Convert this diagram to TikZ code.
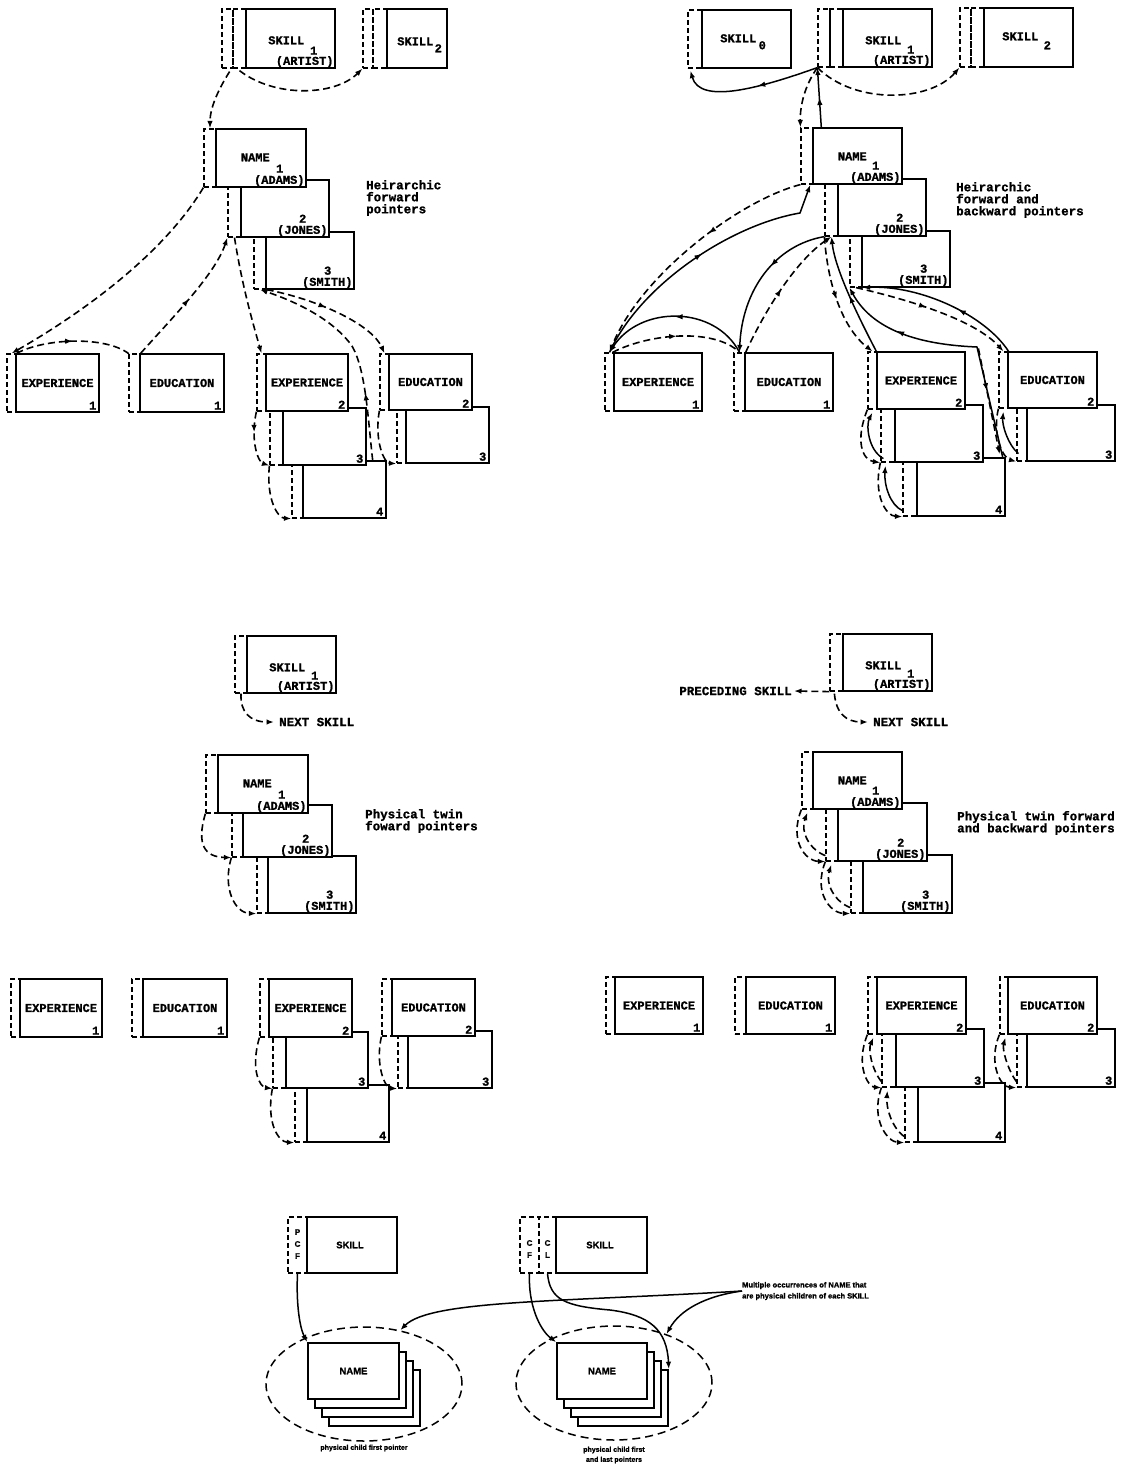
\documentclass[tikz,border=0pt]{standalone}
\usepackage{fontspec}
\setmainfont{Liberation Serif}
\setmonofont{Liberation Mono}[BoldFeatures={FakeBold=1.2}]
\setsansfont{Liberation Sans}[BoldFeatures={FakeBold=1.2}]
\usetikzlibrary{fit,calc,arrows.meta,decorations.markings,shapes.geometric}
\tikzset{
 rec/.style={draw, fill=white, line width=1.4pt, inner sep=0pt},
 stk/.style={draw, fill=white, line width=1.6pt, inner sep=0pt},
 pfx/.style={draw, dash pattern=on 5pt off 3pt, line width=1.2pt, inner sep=0pt},
 dptr/.style={line width=1.6pt, dash pattern=on 7pt off 4pt},
 sptr/.style={line width=1.5pt},
 >={Latex[length=7.5pt,width=5.5pt]},
 marr/.style={postaction={decorate,decoration={markings,mark=at position #1 with {\arrow[solid]{>}}}}},
 btxt/.style={font=\ttfamily\bfseries\fontsize{12}{12}\selectfont, inner sep=0pt},
 ltxt/.style={font=\ttfamily\bfseries\fontsize{12.5}{12}\selectfont, inner sep=0pt, align=left},
 stxt/.style={font=\sffamily\bfseries\fontsize{9.5}{10}\selectfont, inner sep=0pt},
 pftxt/.style={font=\sffamily\bfseries\fontsize{8}{8}\selectfont, inner sep=0pt},
 ctxt/.style={font=\sffamily\bfseries\fontsize{7}{10}\selectfont, inner sep=0pt, align=center},
 annt/.style={font=\sffamily\bfseries\fontsize{7.5}{11}\selectfont, inner sep=0pt, align=left},
 ellz/.style={draw, ellipse, line width=1.5pt, dash pattern=on 8pt off 5pt, minimum width=196pt, minimum height=114pt, inner sep=0pt},
}
% id, prefix-left, x1, y1, x2, y2
\newcommand\Rec[6]{%
 \node[pfx, fit={(#2,#4) (#3,#6)}] (#1p) {};
 \node[rec, fit={(#3,#4) (#5,#6)}] (#1) {};}
% id, prefix-left, divider, x1, y1, x2, y2
\newcommand\RecT[7]{%
 \node[pfx, fit={(#2,#5) (#3,#7)}] (#1q) {};
 \node[pfx, fit={(#3,#5) (#4,#7)}] (#1p) {};
 \node[rec, fit={(#4,#5) (#6,#7)}] (#1) {};}
\newcommand\SkT[3]{%
 \node[btxt] (#1a) at ($(#1.north west)+(41,32)$) {SKILL};
 \node[btxt] (#1b) at ($(#1.south east)+(-22,-18)$) {#2};
 \node[btxt,anchor=east] (#1c) at ($(#1.south east)+(-2,-7)$) {#3};}
\newcommand\NmT[3]{%
 \node[btxt] (#1b) at ($(#1.south east)+(-27,-19)$) {#2};
 \node[btxt,anchor=east] (#1c) at ($(#1.south east)+(-2,-7)$) {#3};}
\newcommand\ExT[3]{%
 \node[btxt] (#1a) at (#1.center) {#2};
 \node[btxt] (#1b) at ($(#1.south east)+(-7,-7)$) {#3};}
\newcommand\NoT[2]{\node[btxt] (#1b) at ($(#1.south east)+(-7,-7)$) {#2};}

\begin{document}
\begin{tikzpicture}[x=1pt,y=-1pt]
\fill[white] (0,0) rectangle (1120,1476);
\useasboundingbox (0,0) rectangle (1120,1476);

% ================= Panel 1 : hierarchic forward =================
\RecT{p1s1}{222}{233}{246}{9}{335}{68}
\RecT{p1s2}{363}{373}{387}{9}{447}{68}
\Rec{p1n3}{254}{266}{232}{354}{289}
\Rec{p1n2}{228}{241}{180}{329}{237}
\Rec{p1n1}{204}{216}{129}{306}{187}
\Rec{p1e1}{7}{16}{354}{99}{412}
\Rec{p1d1}{129}{140}{354}{224}{412}
\Rec{p1e4}{292}{303}{461}{386}{518}
\Rec{p1e3}{270}{283}{408}{366}{465}
\Rec{p1e2}{257}{266}{354}{348}{411}
\Rec{p1d3}{397}{406}{407}{489}{463}
\Rec{p1d2}{380}{389}{354}{472}{410}

\SkT{p1s1}{1}{(ARTIST)}
\node[btxt] (p1s2a) at ($(p1s2.north west)+(29,33)$) {SKILL};
\node[btxt] (p1s2b) at ($(p1s2.north west)+(52,40)$) {2};
\node[btxt] (p1n1a) at ($(p1n1.north west)+(40,29)$) {NAME};
\NmT{p1n1}{1}{(ADAMS)}
\NmT{p1n2}{2}{(JONES)}
\NmT{p1n3}{3}{(SMITH)}
\ExT{p1e1}{EXPERIENCE}{1}
\ExT{p1d1}{EDUCATION}{1}
\ExT{p1e2}{EXPERIENCE}{2}
\ExT{p1d2}{EDUCATION}{2}
\NoT{p1e3}{3}
\NoT{p1e4}{4}
\NoT{p1d3}{3}
\node[ltxt, anchor=west] (p1lab) at (366,198) {Heirarchic\\forward\\pointers};

\draw[dptr,->] ($(p1s1q.south east)+(-4,3)$) .. controls (218,90) and (210,108) .. (p1n1p.north);
\draw[dptr,->] ($(p1s1p.south)+(0,2)$) .. controls (275,98) and (335,96) .. (p1s2q.south west);
\draw[dptr,->] (p1n1p.south west) .. controls (160,260) and (70,320) .. (p1e1p.north);
\draw[dptr,marr=0.5] (p1e1p.north east) .. controls (45,338) and (105,336) .. (p1d1p.north west);
\draw[dptr,->,marr=0.5] (p1d1p.north east) .. controls (170,320) and (215,275) .. (p1n2p.south west);
\draw[dptr,->] (p1n2p.south) .. controls (242,285) and (252,320) .. (p1e2p.north);
\draw[dptr,->,marr=0.35] (p1e2p.south west) .. controls (250,440) and (258,462) .. (p1e3p.south west);
\draw[dptr,->] (p1e3p.south west) .. controls (266,500) and (278,518) .. (p1e4p.south west);
\draw[dptr,->,marr=0.3] ($(p1e4.north east)+(-14,0)$) .. controls (368,420) and (366,370) .. (352,346) .. controls (330,315) and (285,298) .. (p1n3p.south);
\draw[dptr,->,marr=0.45] (p1n3p.south east) .. controls (320,300) and (372,325) .. (p1d2p.north);
\draw[dptr,->] (p1d2p.south west) .. controls (374,440) and (384,463) .. (p1d3p.south west);

% ================= Panel 2 : hierarchic forward and backward =================
\Rec{p2s0}{688}{702}{10}{791}{68}
\RecT{p2s1}{818}{830}{843}{9}{932}{67}
\RecT{p2s2}{960}{971}{984}{8}{1073}{67}
\Rec{p2n3}{850}{862}{231}{950}{287}
\Rec{p2n2}{825}{838}{179}{926}{236}
\Rec{p2n1}{801}{813}{128}{902}{184}
\Rec{p2e1}{605}{614}{353}{702}{411}
\Rec{p2d1}{734}{745}{353}{833}{411}
\Rec{p2e4}{903}{917}{458}{1005}{516}
\Rec{p2e3}{881}{895}{405}{983}{462}
\Rec{p2e2}{868}{877}{352}{965}{409}
\Rec{p2d3}{1017}{1027}{405}{1115}{461}
\Rec{p2d2}{999}{1008}{352}{1097}{408}

\node[btxt] (p2s0a) at ($(p2s0.north west)+(37,29)$) {SKILL};
\node[btxt] (p2s0b) at ($(p2s0.north west)+(61,36)$) {0};
\SkT{p2s1}{1}{(ARTIST)}
\node[btxt] (p2s2a) at ($(p2s2.north west)+(37,29)$) {SKILL};
\node[btxt] (p2s2b) at ($(p2s2.north west)+(64,38)$) {2};
\node[btxt] (p2n1a) at ($(p2n1.north west)+(40,29)$) {NAME};
\NmT{p2n1}{1}{(ADAMS)}
\NmT{p2n2}{2}{(JONES)}
\NmT{p2n3}{3}{(SMITH)}
\ExT{p2e1}{EXPERIENCE}{1}
\ExT{p2d1}{EDUCATION}{1}
\ExT{p2e2}{EXPERIENCE}{2}
\ExT{p2d2}{EDUCATION}{2}
\NoT{p2e3}{3}
\NoT{p2e4}{4}
\NoT{p2d3}{3}
\node[ltxt, anchor=west] (p2lab) at (956,200) {Heirarchic\\forward and\\backward pointers};

\draw[sptr,->,marr=0.45] (p2s1q.south west) .. controls (760,88) and (700,105) .. ($(p2s0p.south west)+(3,2)$);
\draw[dptr,->] (p2s1q.south west) .. controls (855,105) and (930,102) .. (p2s2q.south west);
\draw[sptr,->,marr=0.5] ($(p2n1.north west)+(9,0)$) -- (p2s1q.south west);
\draw[dptr,->] (p2s1q.south west) .. controls (805,85) and (800,105) .. (p2n1p.north west);
\draw[dptr,->,marr=0.4] (p2n1p.south west) .. controls (740,200) and (640,275) .. (p2e1p.north);
\draw[sptr,->,marr=0.5] (p2e1p.north) .. controls (640,285) and (730,225) .. (800,213) -- ($(p2n1.south west)+(-2,0)$);
\draw[dptr,marr=0.5] ($(p2e1p.north)+(3,0)$) .. controls (650,333) and (715,328) .. (p2d1p.north);
\draw[sptr,->,marr=0.5] (p2d1p.north) .. controls (715,305) and (640,305) .. (p2e1p.north);
\draw[dptr,->,marr=0.5] (p2d1p.north east) .. controls (770,300) and (800,258) .. (p2n2p.south);
\draw[sptr,->,marr=0.4] (p2n2p.south west) .. controls (775,245) and (742,290) .. (p2d1p.north);
\draw[dptr,->,marr=0.5] (p2n2p.south west) .. controls (828,290) and (845,330) .. (p2e2p.north);
\draw[sptr,->,marr=0.5] (p2e2.north west) .. controls (860,320) and (835,270) .. (p2n2p.south);
\draw[sptr,->,marr=0.75] ($(p2e4.north east)+(-3,0)$) -- (977,347) .. controls (930,345) and (875,335) .. (p2n3p.south west);
\draw[dptr,->,marr=0.45] (p2n3p.south) .. controls (910,300) and (975,320) .. (p2d2p.north);
\draw[sptr,->,marr=0.4] (p2d2p.north east) .. controls (985,315) and (920,285) .. (p2n3p.south east);
\draw[dptr,->,marr=0.4] ($(p2d2p.north west)+(-20,-3)$) -- ($(p2e4.north east)+(-6,-3)$);
\draw[dptr,->] (p2e2p.south west) .. controls (855,440) and (862,460) .. (p2e3p.south west);
\draw[sptr,->] ($(p2e3p.south west)+(3,-4)$) .. controls (868,450) and (866,425) .. ($(p2e2p.south west)+(5,3)$);
\draw[dptr,->] (p2e3p.south west) .. controls (873,495) and (886,516) .. (p2e4p.south west);
\draw[sptr,->] ($(p2e4p.south west)+(0,-6)$) .. controls (890,505) and (884,485) .. ($(p2e3p.south west)+(5,3)$);
\draw[dptr,->] (p2d2p.south west) .. controls (992,435) and (1003,458) .. (p2d3p.south west);
\draw[sptr,->] ($(p2d3p.south west)+(2,-8)$) .. controls (1008,445) and (1002,425) .. ($(p2d2p.south west)+(5,3)$);

% ================= Panel 3 : physical twin forward =================
\Rec{p3s1}{235}{247}{636}{336}{693}
\Rec{p3n3}{257}{268}{856}{356}{913}
\Rec{p3n2}{232}{243}{805}{332}{857}
\Rec{p3n1}{206}{218}{755}{308}{813}
\Rec{p3e1}{11}{20}{979}{102}{1037}
\Rec{p3d1}{132}{143}{979}{227}{1037}
\Rec{p3e4}{295}{307}{1085}{389}{1142}
\Rec{p3e3}{273}{286}{1032}{368}{1088}
\Rec{p3e2}{260}{269}{979}{352}{1037}
\Rec{p3d3}{398}{408}{1031}{492}{1088}
\Rec{p3d2}{382}{392}{979}{475}{1036}

\SkT{p3s1}{1}{(ARTIST)}
\node[btxt] (p3n1a) at ($(p3n1.north west)+(40,29)$) {NAME};
\NmT{p3n1}{1}{(ADAMS)}
\NmT{p3n2}{2}{(JONES)}
\NmT{p3n3}{3}{(SMITH)}
\ExT{p3e1}{EXPERIENCE}{1}
\ExT{p3d1}{EDUCATION}{1}
\ExT{p3e2}{EXPERIENCE}{2}
\ExT{p3d2}{EDUCATION}{2}
\NoT{p3e3}{3}
\NoT{p3e4}{4}
\NoT{p3d3}{3}
\node[ltxt, anchor=west] (p3next) at (279,722) {NEXT SKILL};
\node[ltxt, anchor=west] (p3lab) at (365,821) {Physical twin\\foward pointers};

\draw[dptr,->] (p3s1p.south) .. controls (240,712) and (250,722) .. ($(p3next.west)+(-5,0)$);
\draw[dptr,->] (p3n1p.south west) .. controls (196,845) and (205,857) .. (p3n2p.south west);
\draw[dptr,->] (p3n2p.south west) .. controls (222,888) and (235,913) .. (p3n3p.south west);
\draw[dptr,->] (p3e2p.south west) .. controls (250,1070) and (260,1087) .. (p3e3p.south west);
\draw[dptr,->] (p3e3p.south west) .. controls (266,1122) and (278,1142) .. (p3e4p.south west);
\draw[dptr,->] (p3d2p.south west) .. controls (375,1065) and (385,1088) .. (p3d3p.south west);

% ================= Panel 4 : physical twin forward and backward =================
\Rec{p4s1}{830}{843}{634}{932}{691}
\Rec{p4n3}{851}{863}{855}{952}{913}
\Rec{p4n2}{826}{838}{803}{927}{861}
\Rec{p4n1}{802}{813}{752}{902}{809}
\Rec{p4e1}{606}{615}{977}{703}{1034}
\Rec{p4d1}{735}{746}{977}{835}{1034}
\Rec{p4e4}{905}{918}{1083}{1005}{1142}
\Rec{p4e3}{882}{896}{1029}{984}{1087}
\Rec{p4e2}{868}{877}{977}{966}{1034}
\Rec{p4d3}{1017}{1027}{1029}{1115}{1087}
\Rec{p4d2}{1000}{1008}{977}{1097}{1034}

\SkT{p4s1}{1}{(ARTIST)}
\node[btxt] (p4n1a) at ($(p4n1.north west)+(40,29)$) {NAME};
\NmT{p4n1}{1}{(ADAMS)}
\NmT{p4n2}{2}{(JONES)}
\NmT{p4n3}{3}{(SMITH)}
\ExT{p4e1}{EXPERIENCE}{1}
\ExT{p4d1}{EDUCATION}{1}
\ExT{p4e2}{EXPERIENCE}{2}
\ExT{p4d2}{EDUCATION}{2}
\NoT{p4e3}{3}
\NoT{p4e4}{4}
\NoT{p4d3}{3}
\node[ltxt, anchor=east] (p4prec) at (792,691) {PRECEDING SKILL};
\node[ltxt, anchor=west] (p4next) at (873,722) {NEXT SKILL};
\node[ltxt, anchor=west] (p4lab) at (957,823) {Physical twin forward\\and backward pointers};

\draw[dptr,->] (p4s1p.south west) -- ($(p4prec.east)+(2,0)$);
\draw[dptr,->] ($(p4s1p.south west)+(5,2)$) .. controls (836,713) and (846,722) .. ($(p4next.west)+(-5,0)$);
\draw[dptr,->] (p4n1p.south west) .. controls (789,840) and (805,861) .. (p4n2p.south west);
\draw[dptr,->] ($(p4n2p.south west)+(0,-6)$) .. controls (810,850) and (800,832) .. ($(p4n1p.south west)+(6,3)$);
\draw[dptr,->] (p4n2p.south west) .. controls (813,892) and (830,913) .. (p4n3p.south west);
\draw[dptr,->] ($(p4n3p.south west)+(0,-6)$) .. controls (835,902) and (825,884) .. ($(p4n2p.south west)+(6,3)$);
\draw[dptr,->] (p4e2p.south west) .. controls (855,1065) and (868,1087) .. (p4e3p.south west);
\draw[dptr,->] ($(p4e3p.south west)+(0,-6)$) .. controls (872,1070) and (868,1050) .. ($(p4e2p.south west)+(6,3)$);
\draw[dptr,->] (p4e3p.south west) .. controls (870,1120) and (888,1142) .. (p4e4p.south west);
\draw[dptr,->] ($(p4e4p.south west)+(0,-6)$) .. controls (892,1128) and (886,1108) .. ($(p4e3p.south west)+(6,3)$);
\draw[dptr,->] (p4d2p.south west) .. controls (988,1062) and (1000,1087) .. (p4d3p.south west);
\draw[dptr,->] ($(p4d3p.south west)+(0,-6)$) .. controls (1008,1070) and (1002,1050) .. ($(p4d2p.south west)+(6,3)$);

% ================= Bottom : physical child pointers =================
\node[ellz] (p5ell) at (364,1384) {};
\node[ellz] (p6ell) at (614,1383) {};
\Rec{p5s}{288}{307}{1217}{397}{1273}
\RecT{p6s}{520}{539}{556}{1217}{647}{1273}
\node[stk, fit={(329,1370) (420,1426)}] (p5n3) {};
\node[stk, fit={(322,1361) (413,1417)}] (p5n2) {};
\node[stk, fit={(315,1352) (406,1408)}] (p5n1) {};
\node[stk, fit={(308,1343) (399,1399)}] (p5n) {};
\node[stk, fit={(578,1370) (668,1426)}] (p6n3) {};
\node[stk, fit={(571,1361) (661,1417)}] (p6n2) {};
\node[stk, fit={(564,1352) (654,1408)}] (p6n1) {};
\node[stk, fit={(557,1343) (647,1399)}] (p6n) {};

\node[stxt] (p5st) at (350,1245) {SKILL};
\node[stxt] (p5nt) at (p5n.center) {NAME};
\node[stxt] (p6st) at (600,1245) {SKILL};
\node[stxt] (p6nt) at (p6n.center) {NAME};
\node[pftxt] (p5l1) at (297.5,1232) {P};
\node[pftxt] (p5l2) at (297.5,1244) {C};
\node[pftxt] (p5l3) at (297.5,1256) {F};
\node[pftxt] (p6l1) at (529.5,1243) {C};
\node[pftxt] (p6l2) at (529.5,1255) {F};
\node[pftxt] (p6l3) at (547.5,1243) {C};
\node[pftxt] (p6l4) at (547.5,1255) {L};
\node[ctxt] (p5cap) at (364,1448) {physical child first pointer};
\node[ctxt] (p6cap) at (614,1455) {physical child first\\and last pointers};
\node[annt, anchor=west] (mult) at (742,1291) {Multiple occurrences of NAME that\\are physical children of each SKILL};

\draw[sptr,->] (p5sp.south) .. controls (296,1305) and (300,1328) .. (p5n.north west);
\draw[sptr,->] (p6sq.south) .. controls (528,1305) and (540,1330) .. (p6n.north west);
\draw[sptr,->] (p6sp.south) .. controls (550,1300) and (565,1306) .. (610,1310) .. controls (650,1315) and (667,1330) .. (p6n3.north east);
\draw[sptr,->] (mult.west) .. controls (560,1302) and (430,1300) .. (p5ell.56);
\draw[sptr,->] (mult.west) .. controls (705,1296) and (680,1310) .. (p6ell.43);
\end{tikzpicture}
\end{document}
